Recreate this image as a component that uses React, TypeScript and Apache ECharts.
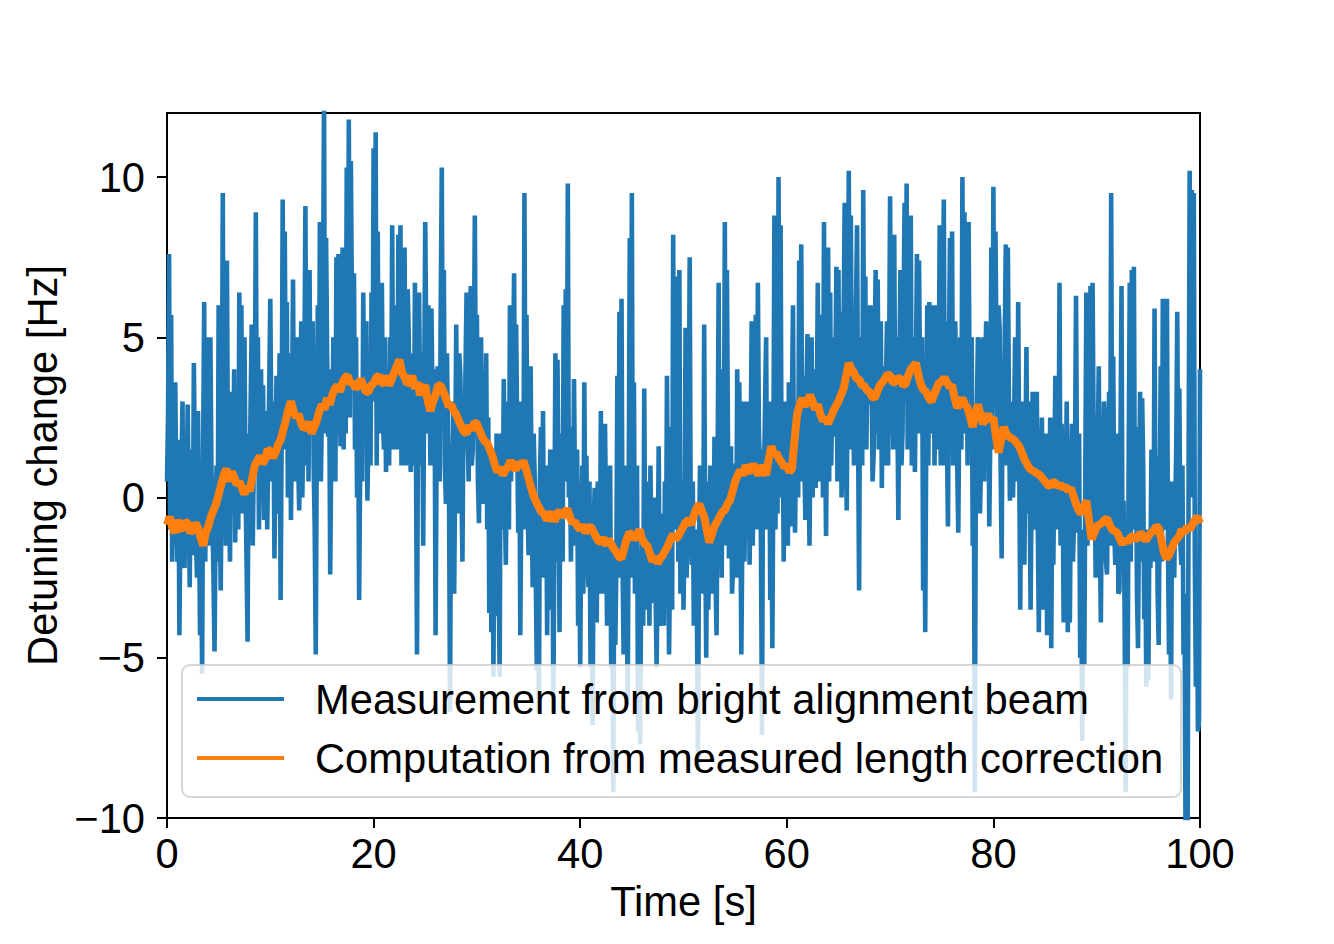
import React, { useEffect, useRef } from "react";
import * as echarts from "echarts";

// Sampling steps of the two recorded series (seconds)
const BLUE_STEP = 0.1;
const ORANGE_STEP = 0.25;

// Measurement from bright alignment beam [Hz], one row per second (10 samples each), last value at t = 100 s
const blueValues: number[] = [
  0.5, 2.5, 7.6, -1.0, 5.7, -2.0, 1.0, -1.5, 3.6, 0.0,
  -2.0, 1.8, -4.3, -0.5, 0.9, 3.0, -1.5, -2.2, 1.0, -0.8,
  2.9, 0.0, -2.8, 1.5, 0.5, -1.8, 4.2, 1.0, -1.2, -2.5,
  2.7, -0.5, -4.3, -1.0, -5.5, 1.5, 6.1, -2.0, 0.5, 2.0,
  5.0, -1.5, 5.0, 1.0, -0.7, -2.5, -4.8, -1.0, 1.0, -2.0,
  6.0, 0.5, -2.9, 1.0, 9.5, 0.0, 2.0, -1.5, 7.4, 1.0,
  0.0, -2.0, 3.3, 1.0, -0.5, 4.0, -1.4, 0.5, 2.0, -1.0,
  6.4, 1.0, 6.0, -0.5, 3.0, 5.0, 0.5, -2.0, -4.5, 2.0,
  0.5, 3.0, 5.4, -1.5, 1.0, 3.0, 8.9, 1.0, 5.0, -1.0,
  1.5, 4.0, 0.8, 3.5, -0.7, 1.0, 2.7, -1.0, 1.3, 3.5,
  6.2, 2.0, 0.5, 3.0, -1.9, 1.0, 3.8, -0.5, 0.5, 4.5,
  -3.2, 2.0, 9.3, 1.5, 8.3, 2.5, 6.1, 0.0, 2.0, 4.5,
  -0.7, 2.5, 6.8, 0.5, 2.0, 4.0, 5.0, 1.0, -0.4, 3.0,
  5.5, 0.0, 2.5, 4.0, 9.1, 1.0, 3.6, 0.5, 7.1, 2.0,
  3.0, 5.5, 1.0, -1.0, -4.9, 2.0, 6.0, 1.0, 8.6, 0.5,
  3.0, 6.0, 12.5, 2.0, 8.1, 4.5, 1.9, 4.0, -2.4, 1.5,
  1.0, 5.0, 3.6, 0.5, 7.5, 2.0, 7.6, 3.5, 1.6, 4.0,
  7.8, 1.5, 5.8, 2.0, 10.3, 3.0, 11.8, 2.5, 10.5, 6.0,
  4.7, 7.0, 1.5, 5.0, 0.0, 3.0, -3.2, 1.0, 3.6, 0.5,
  6.4, 2.5, 2.0, 5.5, -0.1, 2.0, 3.8, 1.0, 6.4, 3.0,
  10.9, 3.5, 11.4, 1.0, 8.3, 2.0, 3.3, 5.5, 6.7, 2.5,
  1.5, 5.0, 0.8, 4.0, 3.6, 1.0, 5.0, 2.0, 8.5, 1.5,
  3.0, 6.0, 5.0, 1.5, 8.2, 3.0, 8.5, 1.0, 3.8, 6.0,
  7.8, 1.0, 3.6, 6.5, 5.1, 1.5, 0.8, 4.5, 3.0, 1.0,
  6.7, 1.5, -4.9, 2.5, 6.4, 3.0, 1.0, 4.5, -1.5, 3.5,
  8.6, 4.5, 2.0, 6.0, 4.0, 1.0, 5.9, 3.0, 1.0, 4.0,
  -4.3, 1.5, 4.1, 2.0, 0.5, 6.0, 10.3, 2.5, 7.1, 1.0,
  -0.2, 4.5, 2.0, 0.5, -6.7, 1.5, -2.1, 3.0, -3.0, 1.0,
  5.4, -0.5, 1.0, 4.5, 3.8, 0.5, -2.0, 3.0, 1.5, 4.0,
  6.4, 2.0, 0.5, 3.5, 6.6, 1.0, 1.5, 4.0, 8.8, 2.5,
  5.7, 0.5, -0.8, 3.0, 5.0, 1.0, -0.2, 3.5, 2.0, 4.5,
  -1.0, 2.5, -3.6, 0.0, -4.2, 1.5, -5.6, 0.5, -3.7, 2.0,
  0.8, -2.0, -5.6, 2.0, 0.5, -1.0, 3.7, 0.0, -2.1, 1.5,
  3.0, -1.0, 6.0, 0.5, 2.0, 4.0, 7.0, 1.0, 5.4, 2.0,
  -1.1, 3.0, -4.3, 0.0, 1.7, -1.0, 9.5, 2.0, 5.7, 0.0,
  -1.8, 2.5, 4.1, 0.0, -2.8, 2.0, 0.5, -2.5, -5.4, -1.0,
  -6.7, 0.5, 2.2, -1.5, 2.7, -2.5, -1.0, 1.0, -4.3, 0.0,
  -2.4, 1.5, -3.5, 0.5, -6.7, -1.0, 4.5, -2.0, 4.3, 0.5,
  -4.2, 2.0, 1.0, -2.0, 6.0, 0.5, 6.5, 1.0, 9.8, 0.0,
  2.2, -2.0, 0.5, -1.5, 3.7, 0.0, -1.4, 1.5, -4.0, -1.5,
  -5.3, -1.0, 1.0, -3.0, 3.6, -1.5, 1.3, -2.0, -2.8, 0.5,
  -5.3, -2.0, -7.1, -1.0, 0.3, -2.5, -3.9, 0.5, -1.0, -3.0,
  2.7, -2.0, 1.3, -3.0, 2.3, -0.5, -4.0, -1.0, -1.5, 1.0,
  -5.3, -2.0, -9.2, -1.5, -4.6, -2.0, 3.8, -2.5, 5.8, -1.0,
  6.2, -2.0, -4.9, 1.0, -0.7, -3.0, -6.3, 0.5, 8.1, -1.5,
  9.5, -2.5, 3.6, -3.0, -1.0, 1.0, -7.3, -2.0, -7.7, -3.0,
  -1.4, -4.0, 3.4, -2.5, 0.5, -3.5, -1.0, -4.0, 1.0, -2.0,
  -3.3, -1.0, 0.0, -3.0, -5.3, -2.0, 1.6, -4.0, -3.5, -0.5,
  -2.1, -4.0, 0.5, -2.5, 3.8, -1.0, -4.9, -2.0, 2.2, -3.5,
  8.2, -1.0, 6.9, 0.0, 4.3, -2.0, 7.1, -3.0, -2.1, 0.5,
  -3.5, -1.0, 5.3, -2.5, -0.1, 1.5, 7.5, -1.0, -2.1, 0.5,
  -4.0, -2.0, -1.0, -3.5, -8.5, -1.5, 1.0, -2.5, 0.8, -3.0,
  5.4, -1.0, -5.0, 0.5, -3.5, -1.5, 1.0, -3.0, -0.1, -2.0,
  1.9, -2.5, -4.3, 0.5, 6.7, -1.0, 1.0, -2.5, 4.0, -0.5,
  8.6, -1.5, 7.1, 2.0, -1.9, 0.0, 1.6, -3.0, -2.1, 1.0,
  1.0, -2.5, 4.0, -1.0, 3.6, 0.0, -4.9, -1.0, 3.0, -2.0,
  0.5, 3.0, -0.1, 2.0, -2.1, 1.5, 5.5, -1.5, 0.8, 3.0,
  5.7, -1.0, 6.7, 2.0, 1.0, -1.5, -7.4, 1.5, 0.8, 3.0,
  5.0, -1.0, 1.3, 3.0, -3.2, 0.5, -4.7, 1.0, 8.8, -1.0,
  3.0, -0.5, 10.0, 1.0, 8.5, 0.0, 2.4, -2.0, 0.8, 3.0,
  2.0, -1.5, 3.6, 1.0, -0.9, 3.0, 6.0, 0.5, -1.1, 2.0,
  3.0, 0.0, 7.4, 1.5, 7.9, 0.5, 3.8, 1.0, -0.7, 3.0,
  5.1, 1.0, -1.5, 3.0, 5.0, 0.0, 2.0, 4.0, 0.3, 2.5,
  6.7, 0.5, 5.7, 1.5, 4.1, 0.0, 8.6, 2.0, -1.2, 3.0,
  7.8, 0.5, 6.4, 1.0, 3.0, 5.0, 1.9, 4.0, 7.2, 0.5,
  7.1, 1.0, 5.8, 0.0, 2.2, 5.5, 9.2, 2.0, -0.4, 4.5,
  10.2, 1.5, 8.8, 2.5, 5.0, 1.0, 3.6, 6.0, 8.5, 2.0,
  -2.9, 5.0, 3.3, 1.0, 9.6, 2.0, 6.9, 1.5, 4.0, 6.0,
  2.9, 6.0, 4.4, 0.5, 1.3, 4.5, 7.1, 2.0, 6.8, 1.5,
  3.0, 5.5, 0.3, 4.0, 4.1, 1.0, 3.6, 5.5, 1.0, 4.0,
  9.4, 2.0, 6.0, 1.5, 8.2, 2.0, 5.0, 3.0, -0.7, 4.0,
  7.1, 1.0, 2.0, 5.5, 9.2, 3.0, 9.8, 1.5, 5.0, 2.0,
  8.8, 1.0, 3.0, 5.0, 0.8, 4.0, 7.6, 2.0, 7.4, 3.5,
  2.0, 5.0, -2.9, 1.5, -4.2, 2.0, 6.0, 1.0, 6.1, 3.5,
  2.0, 5.5, 6.0, 1.0, 4.3, 6.0, 1.5, 3.0, 8.5, 1.0,
  3.0, 6.0, 9.3, 1.0, 5.5, 2.0, -0.9, 4.5, 8.1, 3.0,
  8.3, 1.0, 2.2, 5.5, 4.0, 1.0, -1.1, 3.0, 5.0, 1.5,
  10.0, 3.0, 8.9, 2.0, 6.5, 1.0, 8.6, 3.0, 2.2, 5.0,
  -1.5, 2.0, -9.2, 1.0, 2.7, 5.0, 4.8, -0.5, 1.0, 4.0,
  5.0, 0.5, 3.8, 5.5, 1.9, 4.0, -0.9, 2.0, 7.8, 1.5,
  9.7, 3.0, 8.3, 4.5, 2.0, 6.0, 5.3, 1.0, -1.9, 4.0,
  2.2, 5.0, 7.9, 1.0, 7.8, 3.0, -0.1, 2.5, 3.0, 0.0,
  2.2, 5.0, 4.1, 0.5, 6.1, 1.0, -3.5, 2.5, 0.5, 3.0,
  -2.1, 1.5, 4.7, -0.5, 3.0, 1.0, -3.5, 0.5, 3.3, -1.0,
  0.5, 2.5, 3.3, -1.0, -4.2, 1.5, 0.8, 2.5, -3.5, 1.0,
  -1.0, 2.0, -4.3, 1.5, -0.7, 2.5, -4.7, 0.5, -2.1, 1.0,
  3.8, -1.0, 2.9, 0.0, 6.7, -1.5, 2.3, 0.5, -3.9, 1.5,
  0.5, 3.0, -4.2, 1.0, -3.9, 0.5, 2.3, -2.0, -0.8, 1.5,
  6.3, 0.0, -1.1, 2.0, -5.0, -2.0, -7.6, -1.0, -5.2, 1.0,
  6.4, -1.5, 0.5, 3.0, 6.6, -1.0, 6.7, 2.0, 0.8, -2.5,
  -0.7, 1.5, 4.1, -1.0, -3.9, 0.0, 0.5, 3.0, 2.2, -2.0,
  -2.4, 1.0, 3.3, -1.5, 9.5, 0.0, 4.4, -1.0, -2.1, 2.0,
  1.0, -3.0, -2.9, 1.5, 6.6, -2.0, -0.1, -3.5, -9.2, -1.5,
  -5.3, 1.5, 6.7, -2.0, 7.1, 0.5, 7.2, -1.0, 2.2, -3.0,
  -4.7, 0.0, 3.3, -2.0, 3.1, 1.0, -3.8, -1.0, -5.9, -2.5,
  -5.7, -1.0, -2.2, 1.5, 1.0, -2.0, 5.9, -1.5, 1.3, -3.0,
  -4.6, 0.0, 4.1, -2.0, 6.2, -1.0, 0.5, 2.5, 6.2, -1.5,
  -4.9, -2.0, -6.3, 0.5, -0.2, -2.5, -0.4, 1.5, 5.8, -1.0,
  3.4, -1.5, -2.1, 1.0, -4.9, -3.0, -10.6, -6.0, -10.6, 1.0,
  10.2, 0.0, 9.6, 2.0, 9.5, -2.0, -5.9, -2.0, -7.3, -7.0,
  4.0,
];

// Computation from measured length correction [Hz], every 0.25 s (20 samples per 5 s row)
const orangeValues: number[] = [
  -0.85, -0.6, -0.9, -1.1, -0.7, -0.95, -1.0, -0.75, -0.8, -1.1, -1.0, -0.8, -0.95, -1.25, -1.5, -1.1, -0.9, -0.6, -0.4, -0.2,
  0.1, 0.4, 0.7, 0.9, 0.5, 0.8, 0.65, 0.4, 0.5, 0.3, 0.1, 0.35, 0.2, 0.6, 1.0, 1.15, 1.3, 1.05, 1.2, 1.5,
  1.45, 1.25, 1.4, 1.65, 1.8, 2.1, 2.4, 2.75, 3.0, 2.7, 2.5, 2.6, 2.3, 2.15, 2.2, 2.35, 2.0, 2.2, 2.4, 2.7,
  2.9, 2.75, 3.1, 2.9, 3.2, 3.4, 3.5, 3.3, 3.6, 3.75, 3.8, 3.55, 3.6, 3.4, 3.5, 3.7, 3.5, 3.3, 3.3, 3.5,
  3.55, 3.75, 3.8, 3.6, 3.55, 3.8, 3.5, 3.7, 3.9, 4.1, 4.3, 3.9, 3.75, 3.55, 3.6, 3.8, 3.4, 3.6, 3.2, 3.4,
  3.5, 3.0, 2.7, 3.0, 3.2, 3.5, 3.5, 3.3, 3.1, 2.85, 2.9, 2.7, 2.6, 2.4, 2.2, 2.05, 2.0, 2.25, 2.1, 2.35,
  2.3, 2.1, 1.9, 1.75, 1.7, 1.5, 1.3, 1.0, 0.8, 0.95, 0.7, 0.85, 0.95, 1.15, 1.0, 0.85, 1.1, 0.95, 1.15, 0.9,
  0.6, 0.3, 0.05, -0.15, -0.3, -0.45, -0.5, -0.7, -0.6, -0.45, -0.75, -0.55, -0.4, -0.6, -0.5, -0.35, -0.6, -0.8, -0.75, -0.9,
  -1.0, -0.85, -1.1, -0.95, -0.9, -1.05, -1.2, -1.35, -1.4, -1.25, -1.5, -1.3, -1.45, -1.6, -1.7, -1.85, -1.9, -1.6, -1.3, -1.1,
  -1.15, -1.3, -1.2, -1.0, -1.3, -1.45, -1.5, -1.75, -2.0, -1.85, -2.05, -1.9, -1.8, -1.65, -1.5, -1.3, -1.15, -1.3, -1.2, -1.05,
  -0.9, -0.75, -0.7, -0.85, -0.55, -0.35, -0.2, -0.4, -0.6, -1.0, -1.4, -1.15, -0.9, -0.75, -0.6, -0.45, -0.4, -0.2, -0.1, 0.2,
  0.5, 0.7, 0.85, 0.7, 1.0, 0.85, 0.8, 1.05, 0.85, 0.7, 1.0, 0.85, 0.7, 1.2, 1.6, 1.35, 1.4, 1.2, 1.1, 0.95,
  1.0, 0.8, 0.9, 1.8, 2.6, 2.9, 3.1, 2.85, 3.0, 3.2, 3.0, 2.75, 2.9, 2.6, 2.4, 2.5, 2.3, 2.5, 2.7, 2.85,
  3.0, 3.2, 3.4, 3.8, 4.2, 4.0, 3.9, 3.7, 3.7, 3.5, 3.5, 3.35, 3.3, 3.15, 3.1, 3.3, 3.5, 3.6, 3.7, 3.85,
  3.8, 3.6, 3.6, 3.75, 3.7, 3.5, 3.55, 3.8, 4.0, 4.1, 4.2, 3.8, 3.5, 3.35, 3.3, 3.1, 3.0, 3.2, 3.4, 3.6,
  3.6, 3.75, 3.6, 3.45, 3.5, 3.1, 2.8, 2.95, 3.1, 2.9, 2.8, 2.5, 2.2, 2.6, 2.9, 2.6, 2.3, 2.45, 2.6, 2.4,
  2.5, 1.9, 1.4, 1.8, 2.2, 2.0, 1.9, 1.85, 1.8, 1.7, 1.6, 1.4, 1.2, 1.05, 0.9, 0.85, 0.8, 0.75, 0.7, 0.6,
  0.5, 0.4, 0.35, 0.5, 0.45, 0.35, 0.4, 0.3, 0.35, 0.2, 0.3, 0.05, -0.2, -0.4, -0.5, -0.3, -0.1, -0.7, -1.3, -1.1,
  -0.9, -0.85, -0.8, -0.7, -0.65, -0.85, -1.0, -1.05, -1.1, -1.3, -1.45, -1.3, -1.4, -1.25, -1.2, -1.3, -1.25, -1.1, -1.2, -1.35,
  -1.2, -1.1, -1.05, -0.9, -0.95, -1.3, -1.7, -1.9, -1.8, -1.6, -1.4, -1.3, -1.2, -1.0, -1.1, -0.9, -1.0, -0.85, -0.7, -0.6,
  -0.8,
];

const seriesNames = [
  "Measurement from bright alignment beam",
  "Computation from measured length correction",
];
const xTicks = [0, 20, 40, 60, 80, 100];
const yTicks = [-10, -5, 0, 5, 10];

const FONT = "'Liberation Sans', Arial, Helvetica, sans-serif";
const FS = 41.7;

const fmtMinus = (v: number) => (v < 0 ? "\u2212" + Math.abs(v) : String(v));

export default function App() {
  const ref = useRef<HTMLDivElement>(null);

  useEffect(() => {
    document.body.style.margin = "0";
    if (!ref.current) return;
    const chart = echarts.init(ref.current, undefined, { renderer: "svg" });

    const blueData = blueValues.map((v, i) => [Math.round(i * BLUE_STEP * 100) / 100, v]);
    const orangeData = orangeValues.map((v, i) => [Math.round(i * ORANGE_STEP * 100) / 100, v]);

    chart.setOption({
      animation: false,
      backgroundColor: "#ffffff",
      textStyle: { fontFamily: FONT, color: "#000" },
      grid: {
        left: 167,
        top: 113,
        width: 1033,
        height: 705,
        show: true,
        borderColor: "#000",
        borderWidth: 2,
        backgroundColor: "transparent",
      },
      xAxis: {
        type: "value",
        min: 0,
        max: 100,
        interval: 20,
        name: "Time [s]",
        nameLocation: "middle",
        nameGap: 62,
        nameTextStyle: { fontSize: FS, color: "#000", fontFamily: FONT },
        axisLine: { show: true, onZero: false, lineStyle: { color: "#000", width: 2 } },
        axisTick: { show: true, length: 10, customValues: xTicks, lineStyle: { color: "#000", width: 2 } },
        axisLabel: { fontSize: FS, color: "#000", margin: 14, fontFamily: FONT, customValues: xTicks },
        splitLine: { show: false },
      },
      yAxis: {
        type: "value",
        min: -10,
        max: 12,
        interval: 5,
        name: "Detuning change [Hz]",
        nameLocation: "middle",
        nameRotate: 90,
        nameGap: 102,
        nameTextStyle: { fontSize: FS, color: "#000", fontFamily: FONT },
        axisLine: { show: true, onZero: false, lineStyle: { color: "#000", width: 2 } },
        axisTick: { show: true, length: 10, customValues: yTicks, lineStyle: { color: "#000", width: 2 } },
        axisLabel: {
          fontSize: FS,
          color: "#000",
          margin: 22,
          fontFamily: FONT,
          customValues: yTicks,
          formatter: (v: number) => fmtMinus(v),
        },
        splitLine: { show: false },
      },
      legend: {
        orient: "vertical",
        left: 182,
        top: 665,
        padding: [10, 18, 15, 15],
        icon: "rect",
        itemWidth: 87,
        itemHeight: 4,
        itemGap: 11,
        backgroundColor: "rgba(255,255,255,0.8)",
        borderColor: "rgba(204,204,204,0.8)",
        borderWidth: 2,
        borderRadius: 8,
        textStyle: { fontSize: FS, color: "#000", fontFamily: FONT, lineHeight: 48, padding: [0, 0, 0, 26] },
        data: seriesNames,
      },
      series: [
        {
          name: seriesNames[0],
          type: "line",
          data: blueData,
          symbol: "none",
          showSymbol: false,
          clip: true,
          lineStyle: { color: "#1f77b4", width: 4.6 },
          itemStyle: { color: "#1f77b4" },
          z: 2,
        },
        {
          name: seriesNames[1],
          type: "line",
          data: orangeData,
          symbol: "none",
          showSymbol: false,
          clip: true,
          lineStyle: { color: "#ff7f0e", width: 8 },
          itemStyle: { color: "#ff7f0e" },
          z: 3,
        },
      ],
    });

    return () => chart.dispose();
  }, []);

  return <div ref={ref} style={{ width: 1334, height: 944, position: "absolute", left: 0, top: 0 }} />;
}
